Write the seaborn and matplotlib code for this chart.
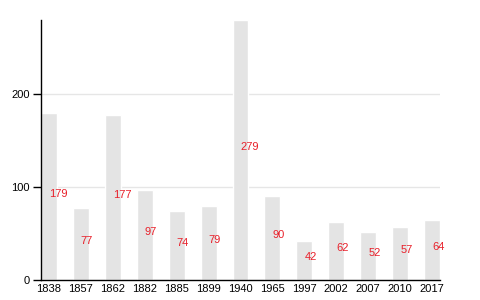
import matplotlib
matplotlib.use("Agg")
import matplotlib.pyplot as plt
import seaborn as sns
import pandas as pd

years = ["1838", "1857", "1862", "1882", "1885", "1899", "1940", "1965", "1997", "2002", "2007", "2010", "2017"]
values = [179, 77, 177, 97, 74, 79, 279, 90, 42, 62, 52, 57, 64]

sns.set_style("white")
plt.rcParams['font.family'] = ['Liberation Sans', 'DejaVu Sans']

df = pd.DataFrame({"year": years, "value": values})

fig = plt.figure(figsize=(4.8, 3.0), dpi=100)
ax = fig.add_axes([41/480, 1 - 280/300, 399/480, 260/300])

sns.barplot(data=df, x="year", y="value", color="#e4e4e4", width=0.5,
            saturation=1, ax=ax, zorder=2)

for i, v in enumerate(values):
    ax.text(i, v / 2, str(v), color="#e8202a", fontsize=8, ha="left",
            va="baseline", zorder=3)

ax.set_xlim(-0.25, 12.25)
ax.set_ylim(0, 279)
ax.set_yticks([0, 100, 200])
ax.yaxis.grid(True, color="#e6e6e6", linewidth=1, zorder=0)
ax.set_axisbelow(True)
ax.set_xlabel("")
ax.set_ylabel("")
for s in ["top", "right"]:
    ax.spines[s].set_visible(False)
for s in ["left", "bottom"]:
    ax.spines[s].set_color("black")
    ax.spines[s].set_linewidth(1)
ax.tick_params(axis="y", length=6, width=1, color="black", labelsize=8, labelcolor="black", left=True, pad=2)
ax.tick_params(axis="x", length=0, labelsize=8, labelcolor="black", pad=3)

fig.savefig("out.png", dpi=100)
